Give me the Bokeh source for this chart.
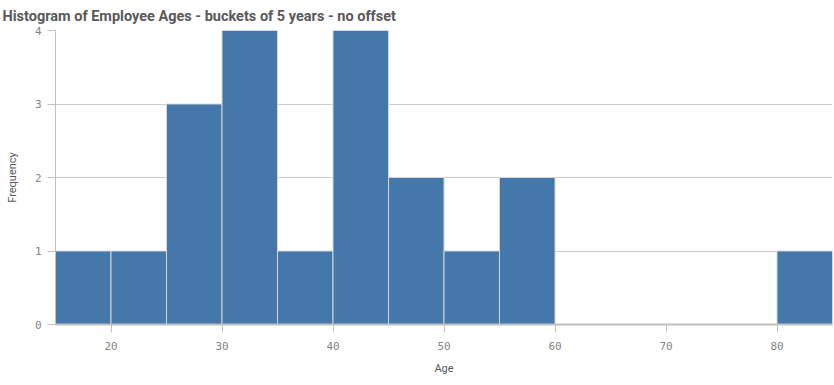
from bokeh.plotting import figure
from bokeh.models import Range1d, FixedTicker, ColumnDataSource
from bokeh.embed import file_html
from bokeh.resources import INLINE

# Data
bin_start = [15, 20, 25, 30, 35, 40, 45, 50, 55, 80]
bin_end = [20, 25, 30, 35, 40, 45, 50, 55, 60, 85]
frequency = [1, 1, 3, 4, 1, 4, 2, 1, 2, 1]
x_ticks = [20, 30, 40, 50, 60, 70, 80]
y_ticks = [0, 1, 2, 3, 4]

src = ColumnDataSource(dict(left=bin_start, right=bin_end, top=frequency,
                            bottom=[0] * len(frequency)))

p = figure(width=834, height=385, output_backend="svg", toolbar_location=None,
           x_range=Range1d(15, 85), y_range=Range1d(0, 4),
           title="Histogram of Employee Ages - buckets of 5 years - no offset",
           min_border_left=55, min_border_right=2, min_border_bottom=61,
           min_border_top=30)

p.outline_line_color = None
p.background_fill_color = "white"
p.border_fill_color = "white"

p.title.text_font = "Roboto"
p.title.text_font_size = "14.5px"
p.title.text_font_style = "bold"
p.title.text_color = "#595959"
p.title.offset = -53
p.title.standoff = 11

p.quad(left="left", right="right", top="top", bottom="bottom", source=src,
       fill_color="#4477aa", line_color="#d6d6d6", line_width=1)

p.xgrid.visible = False
p.ygrid.ticker = FixedTicker(ticks=[1, 2, 3])
p.ygrid.grid_line_color = "#cccccc"
p.ygrid.grid_line_width = 1

p.xaxis.ticker = FixedTicker(ticks=x_ticks)
p.yaxis.ticker = FixedTicker(ticks=y_ticks)

for ax in (p.xaxis[0], p.yaxis[0]):
    ax.major_label_text_font = "DejaVu Sans Mono"
    ax.major_label_text_font_size = "11px"
    ax.major_label_text_color = "#858585"
    ax.major_tick_line_color = "#c0c0c0"
    ax.major_tick_out = 8
    ax.major_tick_in = 0
    ax.minor_tick_line_color = None
    ax.axis_label_text_font = "Roboto"
    ax.axis_label_text_font_size = "11px"
    ax.axis_label_text_font_style = "normal"
    ax.axis_label_text_color = "#595959"

p.xaxis.axis_label = "Age"
p.yaxis.axis_label = "Frequency"
p.xaxis.axis_line_color = "#c0c0c0"
p.xaxis.axis_line_width = 2
p.yaxis.axis_line_color = "#c0c0c0"
p.yaxis.axis_line_width = 1
p.xaxis.major_label_standoff = 9
p.yaxis.major_label_standoff = 6
p.xaxis.axis_label_standoff = 9
p.yaxis.axis_label_standoff = 13

open("out.html", "w").write(file_html(p, INLINE))
